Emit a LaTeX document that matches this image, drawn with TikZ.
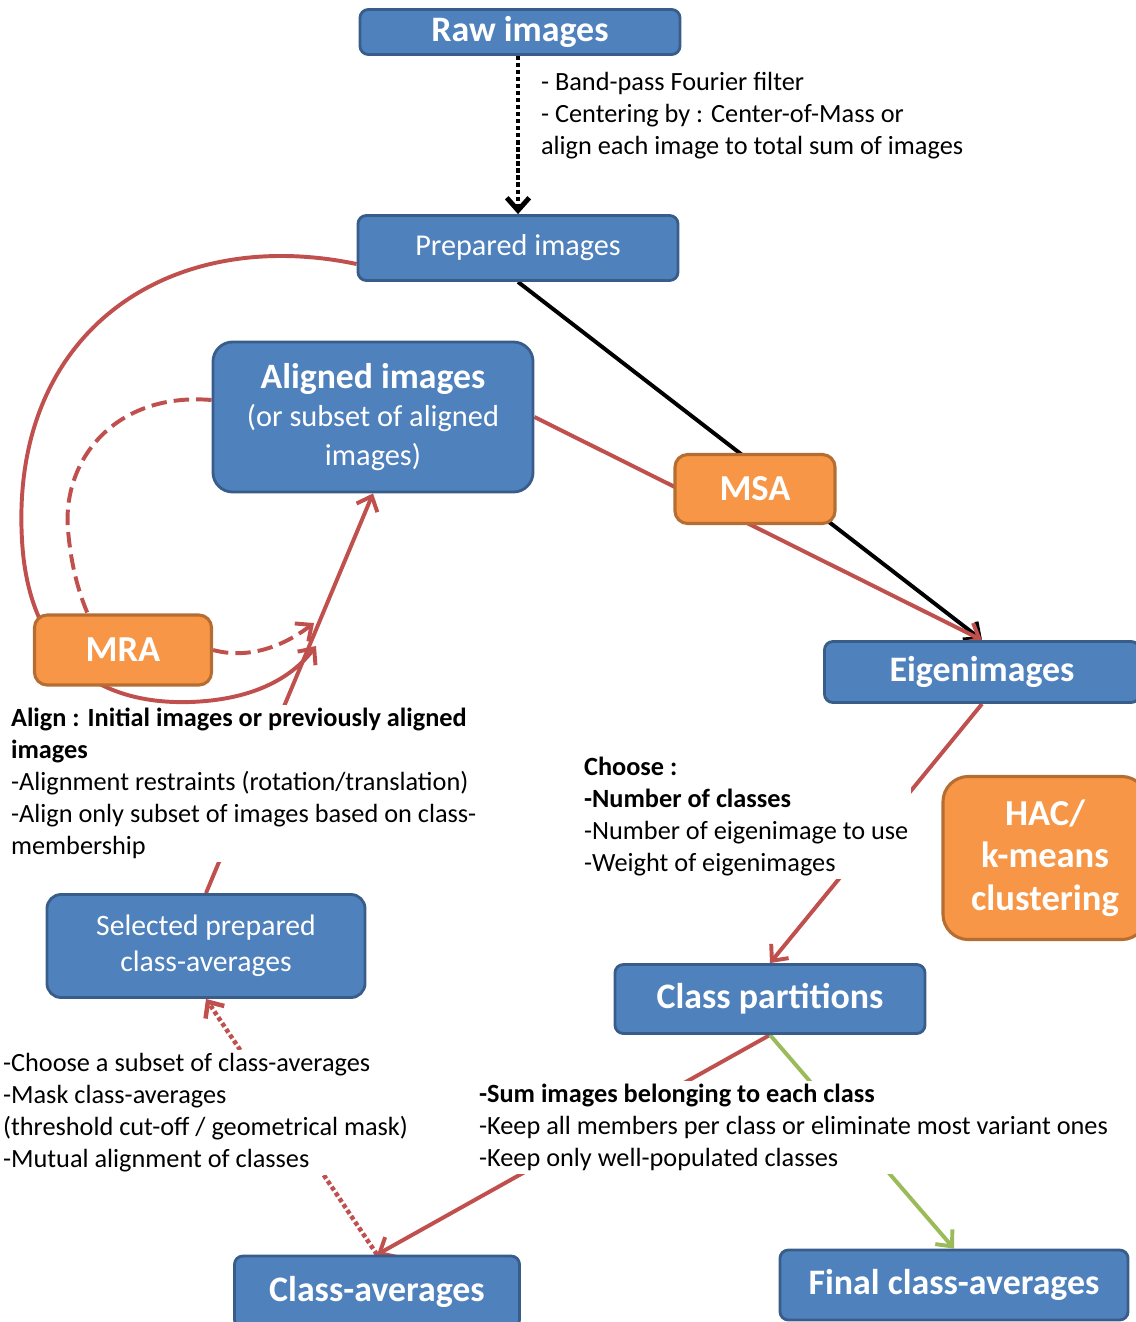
\documentclass[tikz,border=0pt]{standalone}
\usepackage{fontspec}
\setmainfont{Carlito}
\usetikzlibrary{backgrounds,arrows.meta}
\definecolor{boxblue}{HTML}{4F81BD}
\definecolor{boxedge}{HTML}{385D8A}
\definecolor{orangefill}{HTML}{F79646}
\definecolor{orangeedge}{HTML}{B66D31}
\definecolor{linered}{HTML}{C0504D}
\definecolor{linegreen}{HTML}{9BBB59}
\tikzset{
  stage/.style={shape=rectangle,rounded corners=6pt,fill=boxblue,draw=boxedge,line width=2pt,text=white,align=center,inner sep=0pt},
  titlefont/.style={font=\bfseries\fontsize{25.5}{28}\selectfont},
  method/.style={shape=rectangle,rounded corners=9pt,fill=orangefill,draw=orangeedge,line width=2.2pt,text=white,align=center,inner sep=0pt,font=\bfseries\fontsize{26}{30.2}\selectfont},
  note/.style={fill=white,align=left,anchor=north west,inner sep=2pt,font=\fontsize{18.7}{22.8}\selectfont},
  tip/.style={-{Straight Barb[length=9pt,width=16pt]}},
  redline/.style={draw=linered,line width=2.8pt},
}
\begin{document}
\begin{tikzpicture}[x=0.025cm,y=-0.025cm]
\useasboundingbox (0,0) rectangle (1136,1322);
\node[stage,titlefont,minimum width=8cm,minimum height=1.125cm] (raw) at (520,32) {Raw images};
\node[stage,minimum width=8cm,minimum height=1.625cm,font=\fontsize{21.5}{24}\selectfont] (prep) at (518,248) {Prepared images};
\node[stage,rounded corners=14pt,minimum width=8cm,minimum height=3.75cm,font=\fontsize{21.6}{27.4}\selectfont] (aligned) at (373,417) {{\bfseries\fontsize{25.4}{27.4}\selectfont Aligned images}\\(or subset of aligned\\images)};
\node[stage,titlefont,minimum width=7.875cm,minimum height=1.525cm] (eigen) at (982,672) {Eigenimages};
\node[stage,rounded corners=10pt,minimum width=7.95cm,minimum height=2.575cm,font=\fontsize{21.1}{25.6}\selectfont] (selected) at (206,946) {Selected prepared\\class-averages};
\node[stage,titlefont,minimum width=7.75cm,minimum height=1.725cm] (classpart) at (770,999) {Class partitions};
\node[stage,titlefont,minimum width=7.125cm,minimum height=1.8cm] (classavg) at (377,1292) {Class-averages};
\node[stage,titlefont,minimum width=8.7cm,minimum height=1.75cm] (final) at (954,1285) {Final class-averages};
\node[method,minimum width=4cm,minimum height=1.725cm] (msa) at (755,489) {MSA};
\node[method,minimum width=4.425cm,minimum height=1.75cm] (mra) at (123,650) {MRA};
\node[method,rounded corners=18pt,minimum width=5.1cm,minimum height=4.075cm] (hac) at (1045,858) {HAC/\\k-means\\clustering};
\coordinate (soltip) at (316,646);
\coordinate (dashtip) at (314,623);

\node[note] (prepnote) at (538,69) {- Band-pass Fourier filter\\- Centering by : Center-of-Mass or\\align each image to total sum of images};
\node[note] (alignnote) at (8,705) {\textbf{Align : Initial images or previously aligned}\\\textbf{images}\\-Alignment restraints (rotation/translation)\\-Align only subset of images based on class-\\membership};
\node[note] (choosenote) at (581,754) {\textbf{Choose :}\\\textbf{-Number of classes}\\-Number of eigenimage to use\\-Weight of eigenimages};
\node[note] (subsetnote) at (0,1050) {-Choose a subset of class-averages\\-Mask class-averages\\(threshold cut-off / geometrical mask)\\-Mutual alignment of classes};
\node[note] (sumnote) at (476,1081) {\textbf{-Sum images belonging to each class}\\-Keep all members per class or eliminate most variant ones\\-Keep only well-populated classes};

\begin{pgfonlayer}{background}
\draw [tip,black,line width=3.5pt,dash pattern=on 3pt off 2pt] (raw.south -| prep.north) -- (prep.north);
\draw [tip,black,line width=2.8pt] (prep.south) -- (eigen.north);
\draw [tip,redline] (aligned.east) -- (eigen.north);
\draw [tip,redline] (eigen.south) -- (classpart.north);
\draw [tip,redline] (classpart.south) -- (classavg.north);
\draw [tip,draw=linegreen,line width=2.8pt] (classpart.south) -- (final.north);
\draw [tip,redline,dash pattern=on 3pt off 2pt,line width=3.2pt] (classavg.north) -- (selected.south);
\draw [tip,redline] (selected.north) -- (aligned.south);
\draw [tip,redline] ([yshift=-0.4cm]prep.west) .. controls (170,225) and (10,330) .. (22,540) .. controls (28,650) and (90,705) .. (190,702) .. controls (250,700) and (290,680) .. (soltip);
\draw [redline,dash pattern=on 11pt off 5pt] ([yshift=0.425cm]aligned.west) .. controls (115,392) and (62,460) .. (68,530) .. controls (72,575) and (82,605) .. (100,640);
\draw [tip,redline,dash pattern=on 11pt off 5pt] (mra.east) .. controls (250,660) and (285,645) .. (dashtip);
\end{pgfonlayer}
\end{tikzpicture}
\end{document}
